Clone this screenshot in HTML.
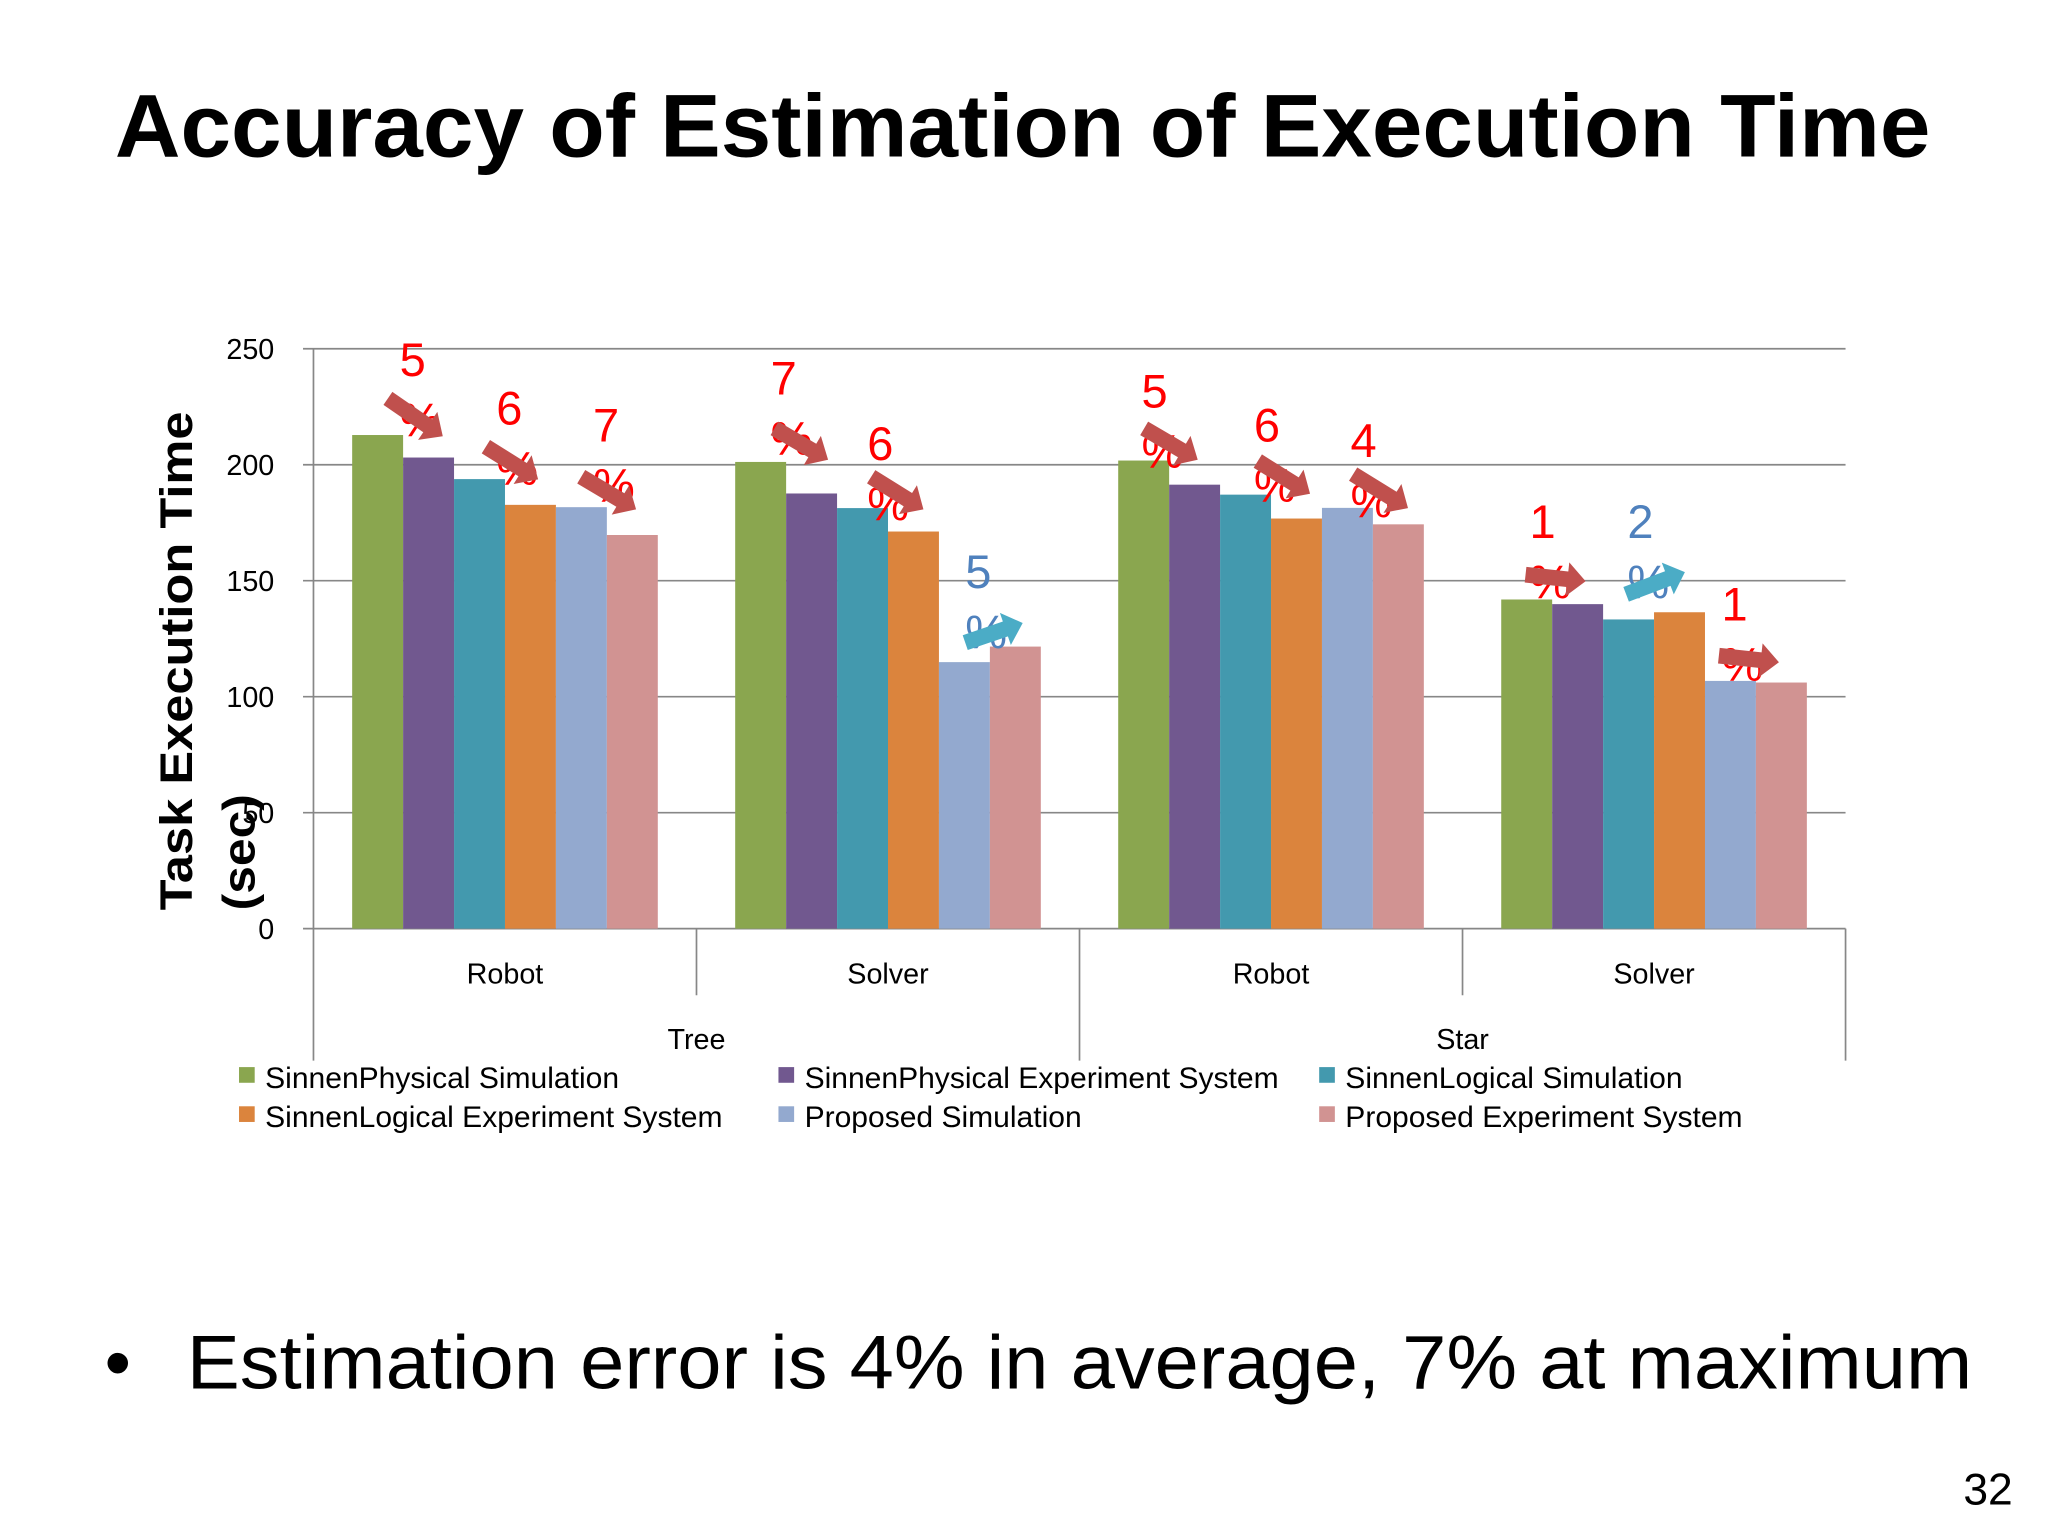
<!DOCTYPE html>
<html><head><meta charset="utf-8"><style>
html,body{margin:0;padding:0;background:#fff;}
svg{display:block;}
</style></head><body>
<svg id="chart" xmlns="http://www.w3.org/2000/svg" width="2048" height="1536" viewBox="0 0 1568 1176">
<rect x="0" y="0" width="1568" height="1176" fill="#fff"/>
<text x="783" y="120" text-anchor="middle" font-family="Liberation Sans, sans-serif" font-weight="bold" font-size="68" textLength="1390" lengthAdjust="spacingAndGlyphs">Accuracy of Estimation of Execution Time</text>
<g id="grid"></g>
<g id="bars"></g>
<g id="axes"></g>
<g id="annots"></g>
<g id="legend"></g>
<text transform="translate(147,697) rotate(-90)" font-family="Liberation Sans, sans-serif" font-weight="bold" font-size="35" textLength="382" lengthAdjust="spacingAndGlyphs">Task Execution Time</text>
<text transform="translate(195,697) rotate(-90)" font-family="Liberation Sans, sans-serif" font-weight="bold" font-size="35" textLength="89" lengthAdjust="spacingAndGlyphs">(sec)</text>
<text x="80" y="1063" font-family="Liberation Sans, sans-serif" font-size="58">•</text>
<text x="143" y="1063" font-family="Liberation Sans, sans-serif" font-size="58" textLength="1367" lengthAdjust="spacingAndGlyphs">Estimation error is 4% in average, 7% at maximum</text>
<text x="1541" y="1152" text-anchor="end" font-family="Liberation Sans, sans-serif" font-size="34">32</text>
</svg>
<script>
const categories = ["Robot","Solver","Robot","Solver"];
const groups = ["Tree","Star"];
const seriesNames = ["SinnenPhysical Simulation","SinnenPhysical Experiment System","SinnenLogical Simulation","SinnenLogical Experiment System","Proposed Simulation","Proposed Experiment System"];
const seriesColors = ["#8aa64f","#71588f","#4399ae","#db843d","#93a9cf","#d19392"];
const sinnenPhysSim = [212.8,201.2,201.8,141.9];
const sinnenPhysExp = [203.1,187.6,191.4,139.9];
const sinnenLogSim = [193.8,181.3,187.1,133.3];
const sinnenLogExp = [182.7,171.2,176.8,136.4];
const proposedSim = [181.7,114.9,181.4,106.8];
const proposedExp = [169.7,121.6,174.3,106.1];
const yTicks = [0,50,100,150,200,250];
const annotLabels = ["5","6","7","7","6","5","5","6","4","1","2","1"];
const annotUp = [false,false,false,false,false,true,false,false,false,false,true,false];

const NS="http://www.w3.org/2000/svg";
const X0=240,X1=1413,Y0=711,Y1=267,YMAX=250;
const y=v=>Y0-(v/YMAX)*(Y0-Y1);
const gw=(X1-X0)/categories.length;
const bw=39;
const xBar=(c,s)=>X0+c*gw+(gw-6*bw)/2+s*bw;
function mk(tag,attrs,parent){const e=document.createElementNS(NS,tag);for(const k in attrs)e.setAttribute(k,attrs[k]);parent.appendChild(e);return e;}
const grid=document.getElementById('grid'),bars=document.getElementById('bars'),axes=document.getElementById('axes'),ann=document.getElementById('annots'),leg=document.getElementById('legend');
yTicks.forEach(t=>{
  const l=mk('line',{x1:232,x2:X1,y1:y(t),y2:y(t),stroke:'#878787','stroke-width':1.3},grid);
  
  
  const tx=mk('text',{x:210,y:y(t)+8,'text-anchor':'end','font-family':'Liberation Sans, sans-serif','font-size':22},axes);
  tx.textContent=t;
  
  
});
const series=[sinnenPhysSim,sinnenPhysExp,sinnenLogSim,sinnenLogExp,proposedSim,proposedExp];
series.forEach((arr,s)=>arr.forEach((v,c)=>{
  const r=mk('rect',{x:xBar(c,s),y:y(v),width:bw,height:Y0-y(v),fill:seriesColors[s]},bars);
  
  
}));
let a=mk('line',{x1:X0,x2:X0,y1:Y1,y2:812,stroke:'#878787','stroke-width':1.3},axes);


for(let i=1;i<=categories.length;i++){
  const xx=X0+i*gw;
  const l=mk('line',{x1:xx,x2:xx,y1:Y0,y2:(i%2===0?812:762),stroke:'#878787','stroke-width':1.3},axes);
  
  
}
categories.forEach((c,i)=>{
  const t=mk('text',{x:X0+(i+0.5)*gw,y:753,'text-anchor':'middle','font-family':'Liberation Sans, sans-serif','font-size':22},axes);
  t.textContent=c;
  
  
});
groups.forEach((g,i)=>{
  const t=mk('text',{x:X0+(i*2+1)*gw,y:803,'text-anchor':'middle','font-family':'Liberation Sans, sans-serif','font-size':22},axes);
  t.textContent=g;
  
  
});
const annPos=[[316,288,297,305,339,334],[390,325,372,342,412,367],[464,338,445,365,487,390],[600,302,593,328,634,352],[674,352,667,365,707,390],[749,450,739,492,783,477],[884,312,876,328,917,352],[970,338,963,353,1003,378],[1044,350,1036,363,1078,389],[1181,412,1168,440,1214,445],[1256,412,1245,455,1290,438],[1328,475,1316,502,1362,507]];
annotLabels.forEach((lab,i)=>{
  const p=annPos[i];const col=annotUp[i]?'#4f81bd':'#ff0000';
  const t=mk('text',{x:p[0],y:p[1],'text-anchor':'middle','font-family':'Liberation Sans, sans-serif','font-size':36,fill:col},ann);
  t.textContent=lab;
  
  
  const t2=mk('text',{x:p[0]+6,y:p[1]+46,'text-anchor':'middle','font-family':'Liberation Sans, sans-serif','font-size':36,fill:col},ann);
  t2.textContent='%';
  
  
  const dx=p[4]-p[2],dy=p[5]-p[3],L=Math.hypot(dx,dy),ang=Math.atan2(dy,dx)*180/Math.PI;
  const ar=mk('polygon',{points:`0,-6 ${L-14},-6 ${L-14},-13 ${L},0 ${L-14},13 ${L-14},6 0,6`,fill:annotUp[i]?'#4bacc6':'#c0504d',transform:`translate(${p[2]},${p[3]}) rotate(${ang})`},ann);
  
  
});
const lx=[183,596,1010],ly=[826,856];
seriesNames.forEach((n,i)=>{
  const cx=lx[i%3],cy=ly[Math.floor(i/3)];
  const r=mk('rect',{x:cx,y:cy-9,width:12,height:12,fill:seriesColors[i]},leg);
  
  
  const t=mk('text',{x:cx+20,y:cy+7,'font-family':'Liberation Sans, sans-serif','font-size':23},leg);
  t.textContent=n;
  
  
});
</script>
</body></html>
